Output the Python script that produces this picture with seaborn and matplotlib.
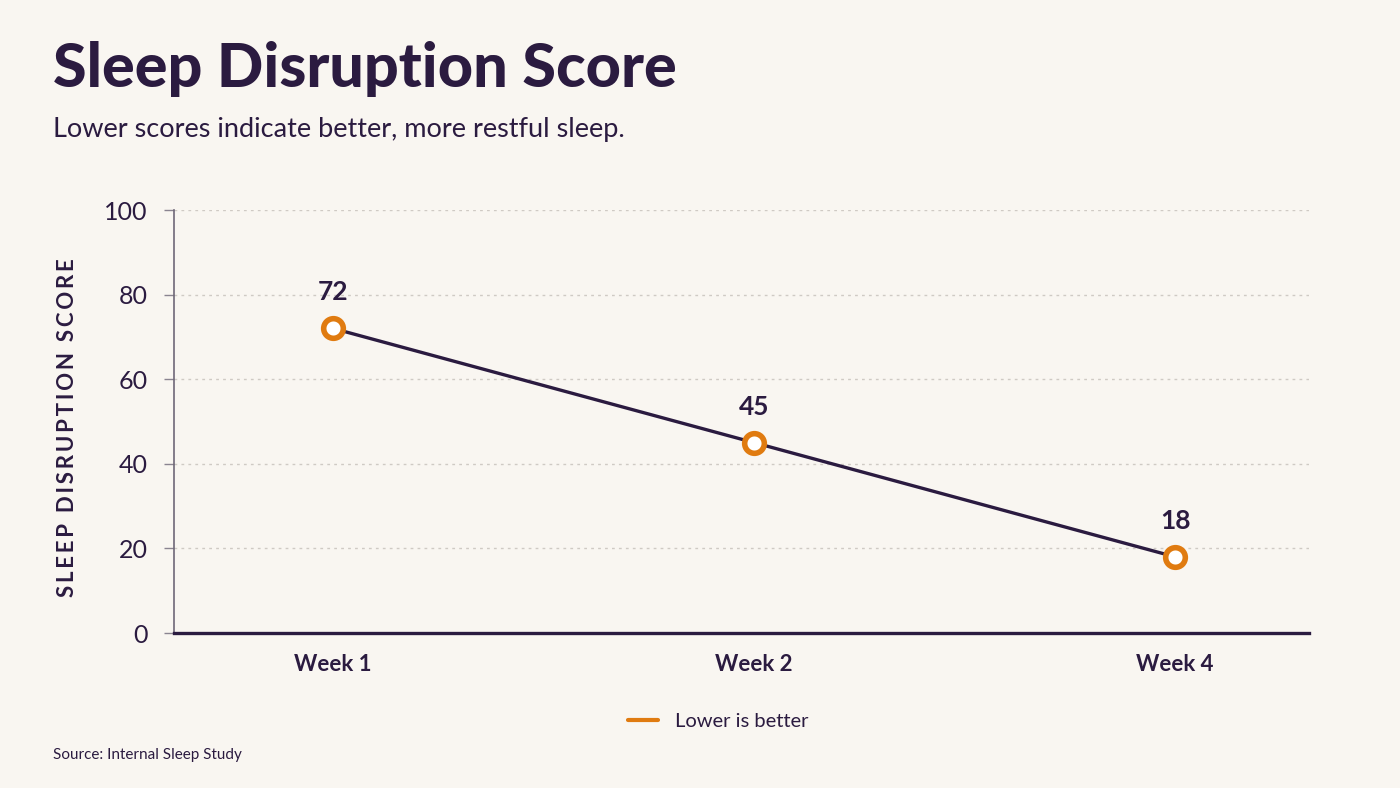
"""
Sleep disruption score over the study weeks — single line with ring markers.
"""

import matplotlib
matplotlib.use("Agg")
import matplotlib.pyplot as plt
from matplotlib.lines import Line2D
import pandas as pd
import seaborn as sns

weeks  = ["Week 1", "Week 2", "Week 4"]
scores = [72, 45, 18]
y_ticks = [0, 20, 40, 60, 80, 100]

BG     = "#F9F6F1"
INK    = "#2B1B40"
ORANGE = "#E07B10"
GRID   = "#CFCAC4"

sns.set_theme(style="white")
plt.rcParams["font.family"] = ["Lato", "DejaVu Sans"]

df = pd.DataFrame({"week": weeks, "score": scores})

fig = plt.figure(figsize=(14, 7.88), dpi=100, facecolor=BG)
ax = fig.add_axes([0.1243, 0.1967, 0.8107, 0.5368], facecolor=BG)

sns.lineplot(data=df, x="week", y="score", ax=ax, color=INK, linewidth=2.4,
             sort=False, zorder=2)
sns.scatterplot(data=df, x="week", y="score", ax=ax, s=200, color="white",
                edgecolor=ORANGE, linewidth=4, zorder=3, legend=False)

for i, (w, v) in enumerate(zip(weeks, scores)):
    ax.annotate(str(v), (i, v), xytext=(0, 26), textcoords="offset points",
                ha="center", va="center", fontsize=19, fontweight="bold",
                color=INK)

ax.set_ylim(0, 100)
ax.set_xlim(-0.378, 2.318)
ax.set_yticks(y_ticks)
ax.set_yticklabels([str(t) for t in y_ticks], fontsize=18, color=INK)
ax.tick_params(axis="y", length=7, width=1, color="#8A8490", pad=12, left=True)
ax.tick_params(axis="x", length=0, pad=15)
for lbl in ax.get_xticklabels():
    lbl.set_fontsize(16)
    lbl.set_fontweight("bold")
    lbl.set_color(INK)

for t in y_ticks[1:]:
    ax.axhline(t, color=GRID, linewidth=1, linestyle=(0, (2, 3)), zorder=0)

for side in ["top", "right"]:
    ax.spines[side].set_visible(False)
ax.spines["left"].set_color("#6F6878")
ax.spines["left"].set_linewidth(1.2)
ax.spines["bottom"].set_color(INK)
ax.spines["bottom"].set_linewidth(2.4)
ax.set_xlabel("")
ax.set_ylabel("")

fig.text(0.038, 0.889, "Sleep Disruption Score", fontsize=44, fontweight=900,
         color=INK, va="baseline")
fig.text(0.038, 0.826, "Lower scores indicate better, more restful sleep.",
         fontsize=19.5, color=INK, va="baseline")
ylabel = "\u2009".join("SLEEP DISRUPTION SCORE")
fig.text(0.048, 0.457, ylabel, rotation=90, fontsize=16,
         fontweight="bold", color=INK, ha="center", va="center")
fig.text(0.038, 0.042, "Source: Internal Sleep Study", fontsize=11,
         color=INK, va="center")

handle = Line2D([0], [0], color=ORANGE, linewidth=3)
fig.legend([handle], ["Lower is better"], loc="center",
           bbox_to_anchor=(0.513, 0.084), frameon=False, fontsize=14.5,
           handlelength=1.5, labelcolor=INK)

fig.savefig("out.png", dpi=100, facecolor=BG)
plt.close(fig)
